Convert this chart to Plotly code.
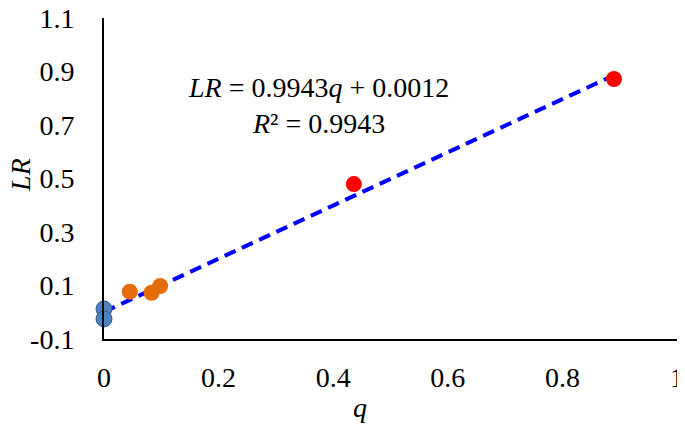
import plotly.graph_objects as go

# data
q_blue = [0.0, 0.0]
lr_blue = [0.012, -0.025]
q_orange = [0.045, 0.083, 0.098]
lr_orange = [0.077, 0.073, 0.098]
q_red = [0.436, 0.890]
lr_red = [0.479, 0.872]

slope = 0.9943
intercept = 0.0012
r2 = 0.9943

x_ticks = [0, 0.2, 0.4, 0.6, 0.8, 1]
x_labels = ["0", "0.2", "0.4", "0.6", "0.8", "1"]
y_ticks = [-0.1, 0.1, 0.3, 0.5, 0.7, 0.9, 1.1]
y_labels = ["-0.1", "0.1", "0.3", "0.5", "0.7", "0.9", "1.1"]

FONT = "Liberation Serif, Times New Roman, serif"
FS = 28

all_q = q_blue + q_orange + q_red
fit_x = [min(all_q), max(all_q)]
fit_y = [slope * x + intercept for x in fit_x]

fig = go.Figure()

fig.add_trace(go.Scatter(
    x=fit_x, y=fit_y, mode="lines",
    line=dict(color="#0000FF", width=4, dash="12px,7px"),
    cliponaxis=False, hoverinfo="skip",
))
fig.add_trace(go.Scatter(
    x=q_blue, y=lr_blue, mode="markers",
    marker=dict(size=16, color="#4F81BD", line=dict(color="#2F5B8C", width=1)),
    cliponaxis=False,
))
fig.add_trace(go.Scatter(
    x=q_orange, y=lr_orange, mode="markers",
    marker=dict(size=16, color="#E46C0A", line=dict(width=0)),
    cliponaxis=False,
))
fig.add_trace(go.Scatter(
    x=q_red, y=lr_red, mode="markers",
    marker=dict(size=16, color="#FF0000", line=dict(width=0)),
    cliponaxis=False,
))

axis_common = dict(
    showgrid=False, zeroline=False, showline=True, automargin=False,
    linecolor="black", linewidth=2, ticks="", ticklabeloverflow="allow",
    tickfont=dict(family=FONT, size=FS, color="black"),
)

fig.update_xaxes(range=[0, 1], tickvals=x_ticks, ticktext=x_labels,
                 ticklabelstandoff=12, **axis_common)
fig.update_yaxes(range=[-0.1, 1.1], tickvals=y_ticks, ticktext=y_labels,
                 ticklabelstandoff=22, **axis_common)

fig.add_annotation(
    x=0.374, y=0.727, xref="paper", yref="paper", showarrow=False,
    xanchor="center", yanchor="middle",
    text=f"<i>LR</i> = {slope}<i>q</i> + {intercept:.4f}<br><i>R</i>² = {r2}",
    font=dict(family=FONT, size=FS, color="black"), align="center",
)
fig.add_annotation(
    x=-0.145, y=0.511, xref="paper", yref="paper", showarrow=False,
    xanchor="center", yanchor="middle",
    text="<i>LR</i>", textangle=-90,
    font=dict(family=FONT, size=FS, color="black"),
)
fig.add_annotation(
    x=0.447, y=-0.212, xref="paper", yref="paper", showarrow=False,
    xanchor="center", yanchor="middle",
    text="<i>q</i>",
    font=dict(family=FONT, size=FS, color="black"),
)

# the page body adds an 8px offset, so margins are shifted to compensate
fig.update_layout(
    width=685, height=427,
    margin=dict(l=96, r=16, t=10, b=96),
    paper_bgcolor="white", plot_bgcolor="white",
    showlegend=False,
)

fig.write_html("out.html")
